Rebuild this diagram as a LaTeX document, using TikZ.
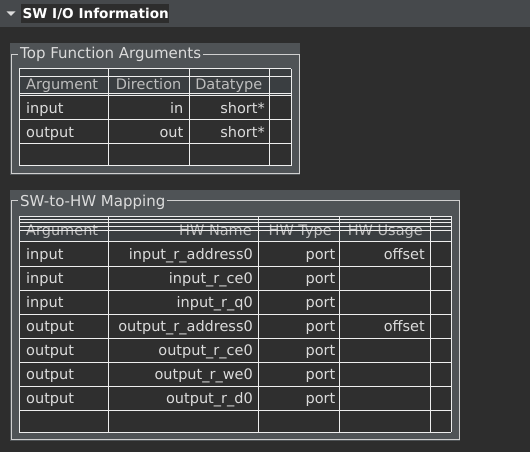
\documentclass[tikz,border=0pt]{standalone}
\usepackage{fontspec}
\setmainfont{DejaVu Sans}
\definecolor{bgc}{HTML}{2D2D2D}
\definecolor{barc}{HTML}{46494C}
\definecolor{panelc}{HTML}{4F5356}
\definecolor{headc}{HTML}{3A3E41}
\definecolor{cellc}{HTML}{2F2F2F}
\definecolor{fgc}{HTML}{DCDCDC}
\definecolor{hdc}{HTML}{BEBEBE}
\definecolor{linec}{HTML}{EEEEEE}
\definecolor{framec}{HTML}{D0D0D0}
\begin{document}
\begin{tikzpicture}[x=1pt,y=-1pt,
  txt/.style={text=fgc, inner sep=0pt, font=\fontsize{14.5}{16}\selectfont},
  lt/.style={txt, anchor=base west},
  rt/.style={txt, anchor=base east},
  hl/.style={lt, text=hdc},
  hr/.style={rt, text=hdc},
  gridline/.style={draw=linec, line width=1pt},
  framebox/.style={draw=framec, line width=1pt},
  ptitle/.style={txt, anchor=base west, fill=panelc, inner xsep=2pt, inner ysep=1pt, font=\fontsize{15}{17}\selectfont}]
\useasboundingbox (0,0) rectangle (530,452);
\fill[bgc] (0,0) rectangle (530,452);
% top bar
\fill[barc] (0,0) rectangle (530,27);
\fill[fgc] (6.5,11.5) -- (15.5,11.5) -- (11,16) -- cycle;
\fill[bgc] (21,4) rectangle (169,23);
\node[txt, anchor=base west, text=white, font=\fontsize{13.6}{15}\selectfont\bfseries] (title) at (22.5,19) {SW I/O Information};

% ---------- panel 1 ----------
\fill[panelc] (10,43) rectangle (300,175);
\draw[framebox] (11.5,54.5) rectangle (299,173);
\node[ptitle] (t1) at (18,58.5) {Top Function Arguments};
\fill[cellc] (19,69) rectangle (291,165.5);
\fill[headc] (19,69) rectangle (291,95);
\node[hl] (h1a) at (26,89.5) {Argument};
\node[hr] (h1b) at (181.5,89.5) {Direction};
\node[hr] (h1c) at (262.5,89.5) {Datatype};
\foreach \yy in {69,77,93,95,119,143,165.5} \draw[gridline] (19,\yy) -- (291,\yy);
\foreach \xx in {19,108,189,269,291} \draw[gridline] (\xx,69) -- (\xx,165.5);
\node[lt] (a1) at (26,113) {input};
\node[rt] (d1) at (183.5,113) {in};
\node[rt] (y1) at (265,113) {short*};
\node[lt] (a2) at (26,137) {output};
\node[rt] (d2) at (183.5,137) {out};
\node[rt] (y2) at (265,137) {short*};

% ---------- panel 2 ----------
\fill[panelc] (10,190) rectangle (460,441);
\draw[framebox] (11.5,200.5) rectangle (459,439);
\node[ptitle] (t2) at (18,206.5) {SW-to-HW Mapping};
\fill[cellc] (19,216) rectangle (451,432);
\fill[headc] (19,216) rectangle (451,241.5);
\node[hl] (h2a) at (26,235.5) {Argument};
\node[hr] (h2b) at (252,235.5) {HW Name};
\node[hr] (h2c) at (332,235.5) {HW Type};
\node[hr] (h2d) at (423,235.5) {HW Usage};
\foreach \yy in {216,219,222.5,226,230,241.5,266,290,314,338,362,386,410,432} \draw[gridline] (19,\yy) -- (451,\yy);
\foreach \xx in {19,108.6,258.6,339.3,430,451} \draw[gridline] (\xx,216) -- (\xx,432);
\foreach \a/\n/\u [count=\i] in {input/input\_r\_address0/offset,
                                 input/input\_r\_ce0/,
                                 input/input\_r\_q0/,
                                 output/output\_r\_address0/offset,
                                 output/output\_r\_ce0/,
                                 output/output\_r\_we0/,
                                 output/output\_r\_d0/} {
  \pgfmathsetmacro{\bl}{241.5+18+(\i-1)*24}
  \node[lt] (ra\i) at (26,\bl) {\a};
  \node[rt] (rn\i) at (253,\bl) {\n};
  \node[rt] (rt\i) at (335.5,\bl) {port};
  \node[rt] (ru\i) at (425,\bl) {\u};
}
\end{tikzpicture}
\end{document}
